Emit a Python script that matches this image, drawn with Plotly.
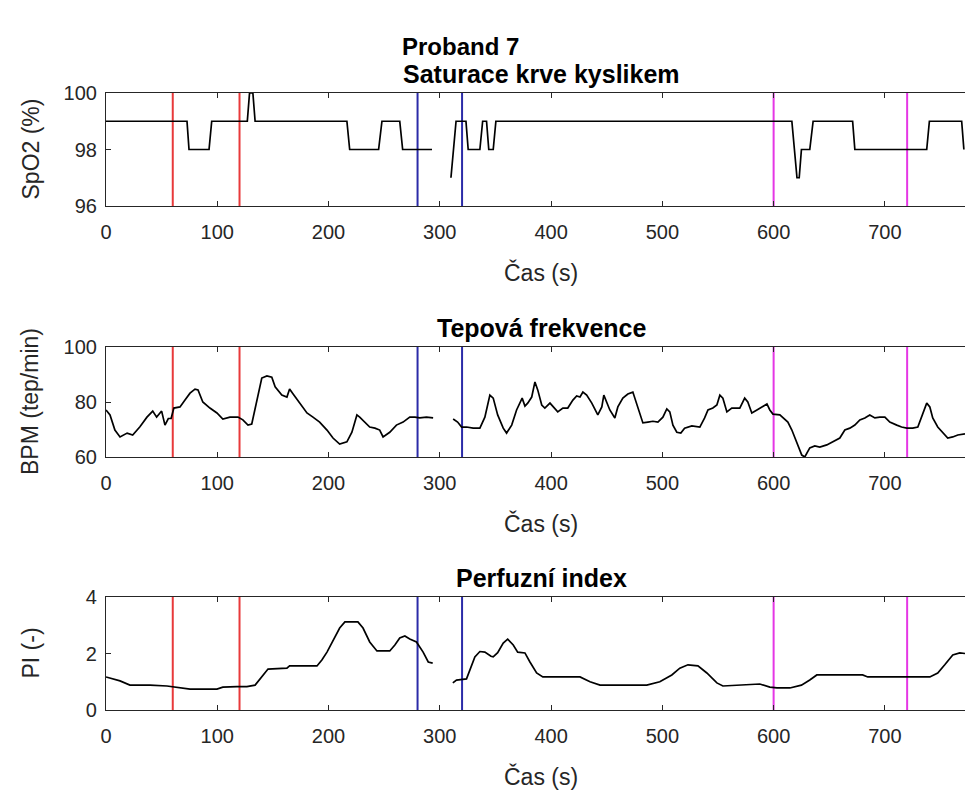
import plotly.graph_objects as go

W, H = 965, 798

# ---------------- data ----------------
spo2_t = [0, 72.8, 74.6, 92.6, 95, 127, 129, 132, 134, 216.5, 219, 245, 248, 264, 266.6, 293, None,
          310, 314.6, 323.5, 325.5, 336, 338.5, 342, 344, 348, 350.4, 616.4, 619, 621, 623, 625,
          632.5, 635.5, 671, 673, 737.6, 740, 769, 771]
spo2_v = [99, 99, 98, 98, 99, 99, 100, 100, 99, 99, 98, 98, 99, 99, 98, 98, None,
          97, 99, 99, 98, 98, 99, 99, 98, 98, 99, 99, 98, 97, 97, 98,
          98, 99, 99, 98, 98, 99, 99, 98]

bpm_t = [0, 3.6, 8, 12.6, 19, 24, 30.5, 36.8, 42, 45.5, 50, 53, 56, 58.5, 61, 66.5, 71, 75.5, 80, 82.7,
         87, 93.4, 99.7, 105, 111.4, 118.6, 123, 127.6, 131, 135.6, 140, 144.6, 149, 152, 158, 162.6,
         165, 168, 174, 180.6, 186, 192, 198.6, 204, 210, 216.5, 221, 225.5, 228, 232.7, 237, 241.7,
         246, 249, 255, 261, 267, 273, 277.6, 282, 288, 294, None,
         312, 316, 319.6, 324, 330, 336, 340.5, 345, 348, 352, 357, 360, 364.6, 369, 374, 376.5, 379,
         382.6, 385.5, 388, 391.6, 394.4, 399, 403.4, 406, 410.6, 415, 419.6, 423, 426, 428.6, 432,
         436.6, 442, 445.6, 447.4, 450, 452.8, 457.3, 460, 464.5, 469, 473.5, 477, 479.8, 482.5, 487,
         491.5, 496, 500.5, 504, 506.7, 509.5, 513, 516.6, 520, 526.5, 531, 533.7, 538, 541, 545.4,
         549, 551.7, 554.4, 558, 562.4, 569.6, 574, 576.8, 580.4, 585, 589.4, 594, 596.6, 599.4,
         605.6, 610, 612.8, 616.4, 620.8, 625.3, 628, 632.5, 637, 641.5, 647.8, 653, 659.5, 664,
         668.5, 673, 677.5, 682, 686.4, 691, 695.4, 700, 704.4, 710.7, 715, 719.7, 725, 729.6, 733,
         737.6, 740.4, 743, 747.5, 752, 756.5, 761, 765.5, 772]
bpm_v = [77.1, 75.3, 69.8, 67.3, 68.7, 68, 71, 74.5, 76.7, 74.5, 76.7, 71.6, 74, 74, 77.8, 78.2, 80.7,
         83.2, 84.7, 84.4, 80, 77.8, 76, 73.8, 74.5, 74.5, 73.5, 71.6, 72, 80.7, 88.7, 89.5, 89, 85.5,
         82.5, 81.8, 84.7, 83, 79.6, 76, 74.5, 72.7, 69.8, 66.9, 64.7, 65.5, 69, 75.3, 74.5, 72.7,
         70.9, 70.5, 69.8, 67.3, 69, 71.6, 72.7, 74.5, 74.5, 74.2, 74.5, 74.2, None,
         73.8, 72.7, 70.9, 70.9, 70.5, 70.5, 74.5, 82.5, 81.4, 75.3, 70.5, 68.7, 71.6, 77.1, 81.4,
         78.5, 79.6, 81.8, 87.3, 84.4, 78.9, 77.8, 79.6, 77.8, 76.4, 77.8, 77.8, 80.7, 82.2, 81.8,
         83.6, 82.5, 79.6, 75.3, 78.2, 82.5, 79.6, 77.1, 74.2, 78.2, 81.4, 82.9, 83.6, 78.9, 76,
         72.4, 72.7, 73, 72.7, 74.5, 77.5, 76.4, 71.6, 69, 68.7, 70.5, 71.3, 70.9, 70.9, 74.2, 77.1,
         77.8, 78.9, 82.5, 81.4, 76.4, 77.8, 77.8, 81.4, 80, 76, 77.1, 78.2, 79.3, 77.1, 75.6, 75.3,
         73.5, 72.7, 69.8, 65, 60.7, 60, 63.3, 64, 63.6, 64.4, 65.5, 66.9, 69.8, 70.5, 71.6, 73.5,
         74.2, 75.3, 74.2, 74.5, 74.5, 72.7, 71.6, 70.9, 70.5, 70.5, 70.9, 74.5, 79.6, 78.2, 74.2,
         70.9, 68.7, 66.9, 67.3, 68, 68.4]

pi_t = [0, 6.5, 12.6, 21.5, 39.5, 54.8, 63.8, 75.5, 99.7, 105, 117.6, 126.6, 134, 138.4, 142.8, 145.6,
        162.6, 165, 189.6, 194, 198.6, 204, 210, 214.7, 226.4, 231, 237, 243.5, 255, 259.6, 264,
        268.6, 273, 279, 285, 289.6, 293.6, None,
        311.7, 315, 324, 327, 331.5, 336, 340.5, 346, 348, 352, 357, 361, 366, 370, 376.5, 381, 387,
        392.6, 426, 435, 444, 486, 497.7, 508.5, 515.7, 523, 532, 540, 549, 554.4, 576, 587.6, 596.6,
        603, 614.6, 625, 632.5, 638.8, 680, 684.6, 740.4, 747.5, 753.8, 761, 767.3, 772]
pi_v = [1.17, 1.1, 1.03, 0.88, 0.88, 0.85, 0.81, 0.74, 0.74, 0.81, 0.83, 0.83, 0.88, 1.1, 1.35, 1.45,
        1.48, 1.56, 1.56, 1.77, 2.05, 2.48, 2.9, 3.12, 3.12, 2.9, 2.41, 2.09, 2.09, 2.3, 2.55,
        2.62, 2.51, 2.41, 2.05, 1.7, 1.66, None,
        0.96, 1.06, 1.1, 1.42, 1.88, 2.07, 2.05, 1.9, 1.88, 2.03, 2.37, 2.51, 2.3, 2.05, 2.02, 1.7, 1.31,
        1.17, 1.17, 1.0, 0.88, 0.88, 1.0, 1.24, 1.48, 1.6, 1.56, 1.31, 0.96, 0.85, 0.88, 0.92, 0.81,
        0.78, 0.78, 0.88, 1.06, 1.24, 1.24, 1.17, 1.17, 1.31, 1.6, 1.95, 2.02, 2.0]

marker_times = [60, 120, 280, 320, 600, 720]
marker_colors = ["#E8393A", "#E8393A", "#2B2BA8", "#2B2BA8", "#E536E5", "#E536E5"]

panels = [
    dict(t=spo2_t, v=spo2_v, yr=[96, 100], ticks=[96, 98, 100], title="Saturace krve kyslikem",
         ylab="SpO2 (%)", top=93, bot=206),
    dict(t=bpm_t, v=bpm_v, yr=[60, 100], ticks=[60, 80, 100], title="Tepová frekvence",
         ylab="BPM (tep/min)", top=347, bot=457),
    dict(t=pi_t, v=pi_v, yr=[0, 4], ticks=[0, 2, 4], title="Perfuzní index",
         ylab="PI (-)", top=597, bot=710),
]
x_ticks = [0, 100, 200, 300, 400, 500, 600, 700]
x_range = [0, 772]

FONT = "Liberation Sans, Arial, Helvetica, sans-serif"
AX = "#262626"
TICK_SIZE = 20
LABEL_SIZE = 23
TITLE_SIZE = 25
SUPTITLE_SIZE = 24

fig = go.Figure()
layout = dict(width=W, height=H, margin=dict(l=0, r=0, t=0, b=0),
              paper_bgcolor="white", plot_bgcolor="white", showlegend=False,
              font=dict(family=FONT, color=AX, size=TICK_SIZE))
annotations = []

def py(p):
    return 1 - p / H

x0 = 106 / W
for i, p in enumerate(panels, start=1):
    xa = "x" if i == 1 else f"x{i}"
    ya = "y" if i == 1 else f"y{i}"
    for mt, mc in zip(marker_times, marker_colors):
        fig.add_trace(go.Scatter(x=[mt, mt], y=p["yr"], mode="lines",
                                 line=dict(color=mc, width=2), xaxis=xa, yaxis=ya,
                                 hoverinfo="skip"))
    fig.add_trace(go.Scatter(x=p["t"], y=p["v"], mode="lines", connectgaps=False,
                             line=dict(color="black", width=1.7), xaxis=xa, yaxis=ya))
    layout["xaxis" if i == 1 else f"xaxis{i}"] = dict(
        domain=[x0, 1], range=x_range, anchor=ya, tickvals=x_ticks,
        showline=True, linecolor=AX, linewidth=1.2, mirror="allticks",
        ticks="inside", ticklen=5, tickcolor=AX, showgrid=False, zeroline=False,
        tickfont=dict(size=TICK_SIZE, color=AX, family=FONT), ticklabelstandoff=8,
        automargin=False, fixedrange=True)
    layout["yaxis" if i == 1 else f"yaxis{i}"] = dict(
        domain=[py(p["bot"]), py(p["top"])], range=p["yr"], anchor=xa, tickvals=p["ticks"],
        showline=True, linecolor=AX, linewidth=1.2, mirror=False,
        ticks="inside", ticklen=5, tickcolor=AX, showgrid=False, zeroline=False,
        tickfont=dict(size=TICK_SIZE, color=AX, family=FONT), ticklabelstandoff=4,
        automargin=False, fixedrange=True)
    # subplot title
    annotations.append(dict(text=f"<b>{p['title']}</b>", xref="paper", yref="paper",
                            x=541 / W, y=py(p["top"] - 19), xanchor="center", yanchor="middle",
                            showarrow=False, font=dict(size=TITLE_SIZE, color="black", family=FONT)))
    # x label
    annotations.append(dict(text="Čas (s)", xref="paper", yref="paper",
                            x=541 / W, y=py(p["bot"] + 66), xanchor="center", yanchor="middle",
                            showarrow=False, font=dict(size=LABEL_SIZE, color=AX, family=FONT)))
    # y label
    annotations.append(dict(text=p["ylab"], xref="paper", yref="paper",
                            x=30 / W, y=py((p["top"] + p["bot"]) / 2), xanchor="center",
                            yanchor="middle", textangle=-90, showarrow=False,
                            font=dict(size=LABEL_SIZE, color=AX, family=FONT)))

annotations.append(dict(text="<b>Proband 7</b>", xref="paper", yref="paper",
                        x=460 / W, y=py(46), xanchor="center", yanchor="middle",
                        showarrow=False, font=dict(size=SUPTITLE_SIZE, color="black", family=FONT)))
layout["annotations"] = annotations
fig.update_layout(**layout)
fig.write_html("out.html", config={"displayModeBar": False})
